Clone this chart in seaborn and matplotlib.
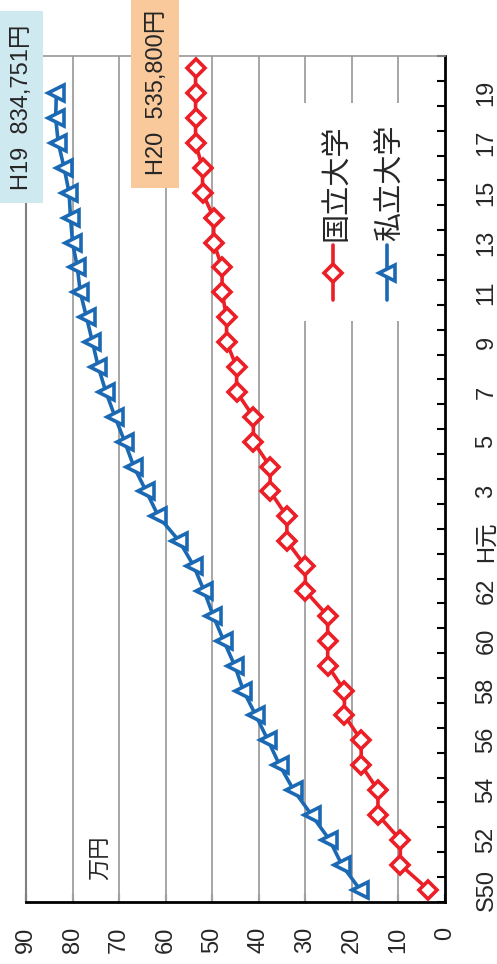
import numpy as np
import pandas as pd
import matplotlib
matplotlib.use('Agg')
import matplotlib.pyplot as plt
import matplotlib.patches as mpatches
from matplotlib.lines import Line2D
import seaborn as sns

# 年度（S50〜H20）
years = ['S50', '51', '52', '53', '54', '55', '56', '57', '58', '59', '60', '61', '62', '63',
         'H元', '2', '3', '4', '5', '6', '7', '8', '9', '10', '11', '12', '13', '14', '15',
         '16', '17', '18', '19', '20']
tick_labels = ['S50', '52', '54', '56', '58', '60', '62', 'H元', '3', '5', '7', '9',
               '11', '13', '15', '17', '19']
# 授業料（万円）
national = [3.6, 9.6, 9.6, 14.4, 14.4, 18.0, 18.0, 21.6, 21.6, 25.2, 25.2, 25.2, 30.0, 30.0,
            33.96, 33.96, 37.56, 37.56, 41.16, 41.16, 44.76, 44.76, 46.92, 46.92, 47.88, 47.88,
            49.68, 49.68, 52.08, 52.08, 53.58, 53.58, 53.58, 53.58]
private = [18.27, 22.18, 24.81, 28.66, 32.52, 35.52, 38.03, 40.63, 43.32, 45.17, 47.53, 49.78,
           51.74, 53.96, 57.06, 61.55, 64.16, 66.85, 68.80, 70.88, 72.84, 74.47, 75.72, 77.00,
           78.33, 78.97, 80.00, 80.44, 80.74, 81.80, 83.06, 83.63, 83.48]
value_ticks = [0, 10, 20, 30, 40, 50, 60, 70, 80, 90]

RED = '#EC1F27'
BLUE = '#1B69B3'
JP = ['Liberation Sans', 'Noto Sans CJK JP']

df_nat = pd.DataFrame({'idx': np.arange(len(national)), 'value': national})
df_pri = pd.DataFrame({'idx': np.arange(len(private)), 'value': private})

sns.set_style('white')
plt.rcParams['font.family'] = JP

fig = plt.figure(figsize=(4.97, 9.64), dpi=100)
ax = fig.add_axes([26 / 497, 62 / 964, 419 / 497, 846 / 964])

# 図は90度回転した向きで描く（横軸=金額、縦軸=年度）
sns.lineplot(data=df_nat, x='value', y='idx', orient='y', ax=ax, color=RED, lw=2.6,
             marker='D', markersize=9, markerfacecolor='white', markeredgecolor=RED,
             markeredgewidth=2.6, zorder=4)
sns.lineplot(data=df_pri, x='value', y='idx', orient='y', ax=ax, color=BLUE, lw=2.6,
             marker='<', markersize=11.5, markerfacecolor='white', markeredgecolor=BLUE,
             markeredgewidth=2.6, zorder=4)

ax.set_xlim(90, 0)
ax.set_ylim(-0.5, len(years) - 0.5)
ax.set_xlabel('')
ax.set_ylabel('')

# 目盛り
ax.set_xticks(value_ticks)
ax.set_xticklabels([str(v) for v in value_ticks], rotation=90, fontsize=17)
ax.tick_params(axis='x', direction='in', length=5.5, width=1.5, color='black', pad=18,
               bottom=True)
label_pos = list(range(0, len(years), 2))[:len(tick_labels)]
ax.yaxis.tick_right()
ax.set_yticks(label_pos)
ax.set_yticklabels(tick_labels, rotation=90, fontsize=17, va='center')
ax.set_yticks(np.arange(-0.5, len(years), 1), minor=True)
ax.tick_params(axis='y', which='major', length=0, pad=22)
ax.tick_params(axis='y', which='minor', direction='in', length=6, width=1.5, color='black',
               right=True, left=False)

# グリッド線
for v in value_ticks[1:-1]:
    ax.axvline(v, color='#a6a6a6', lw=1.4, zorder=1)
ax.grid(False)
for side in ['bottom', 'right']:
    ax.spines[side].set_color('black')
    ax.spines[side].set_linewidth(2)
ax.spines['left'].set_color('#808080')
ax.spines['left'].set_linewidth(1.5)
ax.spines['top'].set_color('#999999')
ax.spines['top'].set_linewidth(1.2)

# 凡例（回転した向き）
ax.add_patch(mpatches.Rectangle((0.62, 0.687), 0.3, 0.258, transform=ax.transAxes,
                                facecolor='white', edgecolor='none', zorder=2))
for xf, col, mk, ms, name in [(0.733, RED, 'D', 9, '国立大学'),
                              (0.861, BLUE, '<', 11.5, '私立大学')]:
    ax.add_line(Line2D([xf, xf], [0.711, 0.777], transform=ax.transAxes, color=col, lw=2.6,
                       zorder=5))
    ax.add_line(Line2D([xf], [0.744], transform=ax.transAxes, color=col, marker=mk,
                       markersize=ms, markerfacecolor='white', markeredgecolor=col,
                       markeredgewidth=2.6, zorder=6))
    ax.text(xf + 0.01, 0.781, name, transform=ax.transAxes, rotation=90, ha='center',
            va='bottom', fontsize=21, family=JP, zorder=6)

ax.text(0.179, 0.026, '万円', transform=ax.transAxes, rotation=90, ha='center',
        va='bottom', fontsize=16, family=JP, zorder=6)

# 注記ボックス
fig.patches.append(mpatches.Rectangle((0, 1 - 203 / 964), 43 / 497, 192 / 964,
                                      transform=fig.transFigure, facecolor='#cfe9f1',
                                      edgecolor='none', zorder=0))
fig.patches.append(mpatches.Rectangle((131 / 497, 1 - 188 / 964), 48 / 497, 188 / 964,
                                      transform=fig.transFigure, facecolor='#f9c89b',
                                      edgecolor='none', zorder=0))
fig.text(22 / 497, 1 - 107.5 / 964, 'H19  834,751円', rotation=90, ha='center',
         va='center', fontsize=17, family=JP)
fig.text(157 / 497, 1 - 92 / 964, 'H20  535,800円', rotation=90, ha='center',
         va='center', fontsize=17, family=JP)

fig.savefig('out.png', dpi=100)
